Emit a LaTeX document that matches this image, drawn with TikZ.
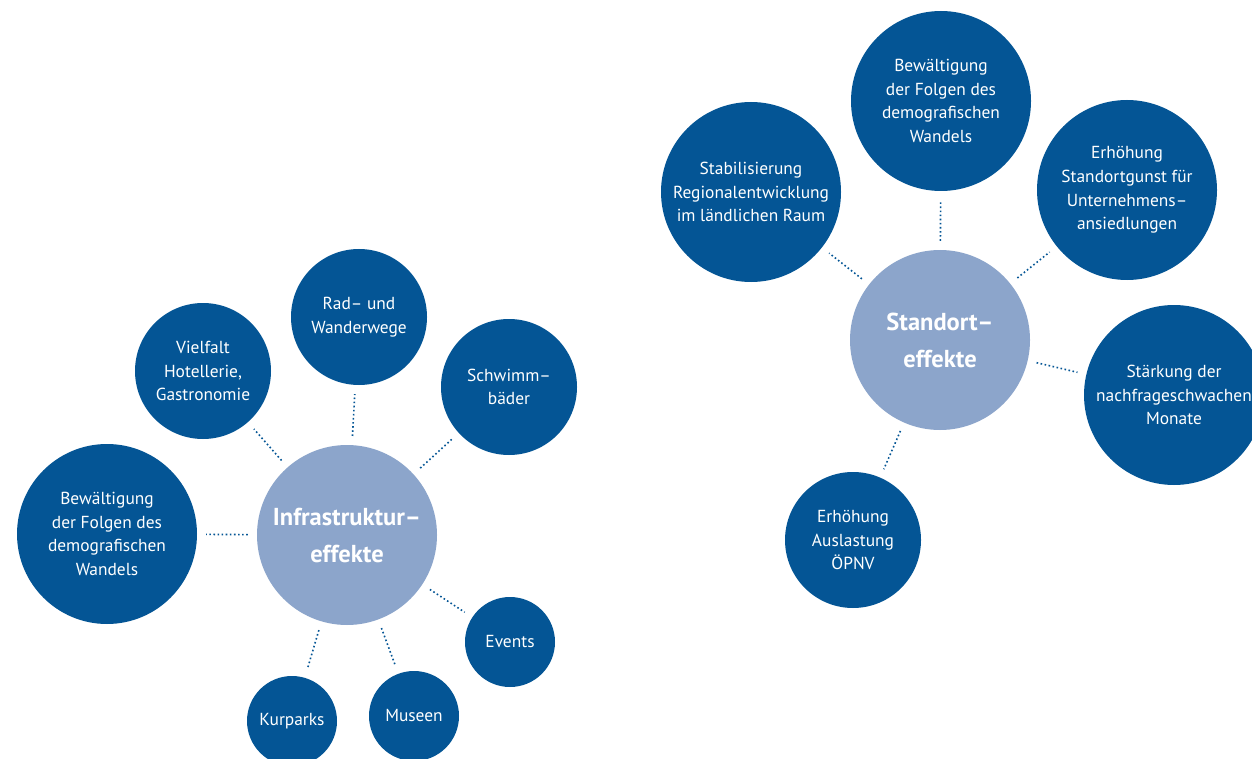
\documentclass[tikz,border=0pt]{standalone}
\usepackage{fontspec}
\setmainfont{PT Sans}
\definecolor{dblue}{HTML}{045595}
\definecolor{lblue}{HTML}{8CA5CB}
\tikzset{
  x=1pt, y=-1pt,
  bub/.style={circle, fill=dblue, text=white, inner sep=0pt, align=center,
    font=\fontsize{17.4}{23.6}\selectfont},
  big/.style={bub, minimum size=180pt},
  mid/.style={bub, minimum size=136pt},
  sml/.style={bub, minimum size=90pt},
  hub/.style={circle, fill=lblue, text=white, inner sep=0pt, align=center,
    minimum size=180pt, font=\fontsize{24.5}{37}\selectfont\bfseries},
  link/.style={draw=dblue, line width=1.6pt, dash pattern=on 1.6pt off 2.5pt,
    shorten <=9pt, shorten >=9pt}
}
\begin{document}
\begin{tikzpicture}
\clip (0,0) rectangle (1252,759);
\fill[white] (0,0) rectangle (1252,759);
% left cluster
\node[hub] (infra) at (347,535) {Infrastruktur–\\effekte};
\node[big] (bew1) at (107,534) {Bewältigung\\der Folgen des\\demografischen\\Wandels};
\node[mid] (viel) at (203,371) {Vielfalt\\Hotellerie,\\Gastronomie};
\node[mid] (rad) at (359,317) {Rad– und\\Wanderwege};
\node[mid] (schw) at (509,387) {Schwimm–\\bäder};
\node[sml] (events) at (510,642) {Events};
\node[sml] (museen) at (414,716) {Museen};
\node[sml] (kur) at (292,721) {Kurparks};
\draw[link] (infra) -- (bew1);
\draw[link] (infra) -- (viel);
\draw[link] (infra) -- (rad);
\draw[link] (infra) -- (schw);
\draw[link] (infra) -- (events);
\draw[link] (infra) -- (museen);
\draw[link] (infra) -- (kur);
% right cluster
\node[hub] (stand) at (940,340) {Standort–\\effekte};
\node[big] (bew2) at (941,101) {Bewältigung\\der Folgen des\\demografischen\\Wandels};
\node[big] (stab) at (751,192) {Stabilisierung\\Regionalentwicklung\\im ländlichen Raum};
\node[big] (erh) at (1127,190) {Erhöhung\\Standortgunst für\\Unternehmens–\\ansiedlungen};
\node[big] (staerk) at (1174,395) {Stärkung der\\nachfrageschwachen\\Monate};
\node[mid] (oepnv) at (853,540) {Erhöhung\\Auslastung\\ÖPNV};
\draw[link] (stand) -- (bew2);
\draw[link] (stand) -- (stab);
\draw[link] (stand) -- (erh);
\draw[link] (stand) -- (staerk);
\draw[link] (stand) -- (oepnv);
\end{tikzpicture}
\end{document}
